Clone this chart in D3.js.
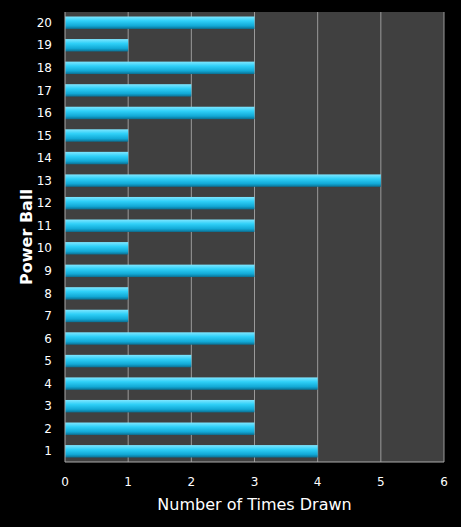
<!DOCTYPE html>
<html><head><meta charset="utf-8">
<script src="https://cdn.jsdelivr.net/npm/d3@7"></script>
<style>body{margin:0;background:#000}svg{display:block}</style>
</head><body>
<script>
var categories = ["1","2","3","4","5","6","7","8","9","10","11","12","13","14","15","16","17","18","19","20"];
var values = [4,3,3,4,2,3,1,1,3,1,3,3,5,1,1,3,2,3,1,3];
var xTicks = [0,1,2,3,4,5,6];

var w = 461, h = 527;
var m = {l: 65, r: 17, t: 12, b: 65};
var svg = d3.select("body").append("svg").attr("width", w).attr("height", h);
var defs = svg.append("defs");
var g = defs.append("linearGradient").attr("id", "bar").attr("x1", 0).attr("y1", 0).attr("x2", 0).attr("y2", 1);
g.append("stop").attr("offset", "0%").attr("stop-color", "#7fe6ff");
g.append("stop").attr("offset", "35%").attr("stop-color", "#2fd0f8");
g.append("stop").attr("offset", "75%").attr("stop-color", "#12a9d6");
g.append("stop").attr("offset", "100%").attr("stop-color", "#0a6f92");

var x = d3.scaleLinear().domain([0, 6]).range([m.l, w - m.r]);
var y = d3.scaleBand().domain(categories.slice().reverse()).range([m.t, h - m.b]).paddingInner(0.45).paddingOuter(0.2);

svg.append("rect").attr("x", m.l).attr("y", m.t).attr("width", w - m.r - m.l).attr("height", h - m.b - m.t).attr("fill", "#404040");
svg.selectAll(".grid").data(xTicks.slice(1)).enter().append("line")
  .attr("x1", d => x(d)).attr("x2", d => x(d)).attr("y1", m.t).attr("y2", h - m.b)
  .attr("stroke", "#9a9a9a").attr("stroke-width", 1);

svg.selectAll(".bar").data(values).enter().append("rect")
  .attr("x", x(0)).attr("y", (d, i) => y(categories[i]))
  .attr("width", d => x(d) - x(0)).attr("height", y.bandwidth())
  .attr("fill", "url(#bar)");

svg.append("line").attr("x1", m.l).attr("x2", w - m.r).attr("y1", h - m.b).attr("y2", h - m.b).attr("stroke", "#aaa");
svg.append("line").attr("x1", m.l).attr("x2", m.l).attr("y1", m.t).attr("y2", h - m.b).attr("stroke", "#aaa");

svg.selectAll(".xt").data(xTicks).enter().append("text")
  .attr("x", d => x(d)).attr("y", h - m.b + 24).attr("text-anchor", "middle")
  .attr("fill", "#fff").attr("font-family", "Verdana, DejaVu Sans, sans-serif").attr("font-size", 12).text(d => d);
svg.selectAll(".yt").data(categories).enter().append("text")
  .attr("x", m.l - 13).attr("y", d => y(d) + y.bandwidth() / 2).attr("dy", "0.35em").attr("text-anchor", "end")
  .attr("fill", "#fff").attr("font-family", "Verdana, DejaVu Sans, sans-serif").attr("font-size", 12).text(d => d);

svg.append("text").attr("x", (m.l + w - m.r) / 2).attr("y", h - 17).attr("text-anchor", "middle")
  .attr("fill", "#fff").attr("font-family", "DejaVu Sans, sans-serif").attr("font-size", 16).text("Number of Times Drawn");
svg.append("text").attr("transform", "translate(32," + ((m.t + h - m.b) / 2) + ") rotate(-90)").attr("text-anchor", "middle")
  .attr("fill", "#fff").attr("font-family", "DejaVu Sans, sans-serif").attr("font-weight", "bold").attr("font-size", 16).text("Power Ball");
</script>
</body></html>
